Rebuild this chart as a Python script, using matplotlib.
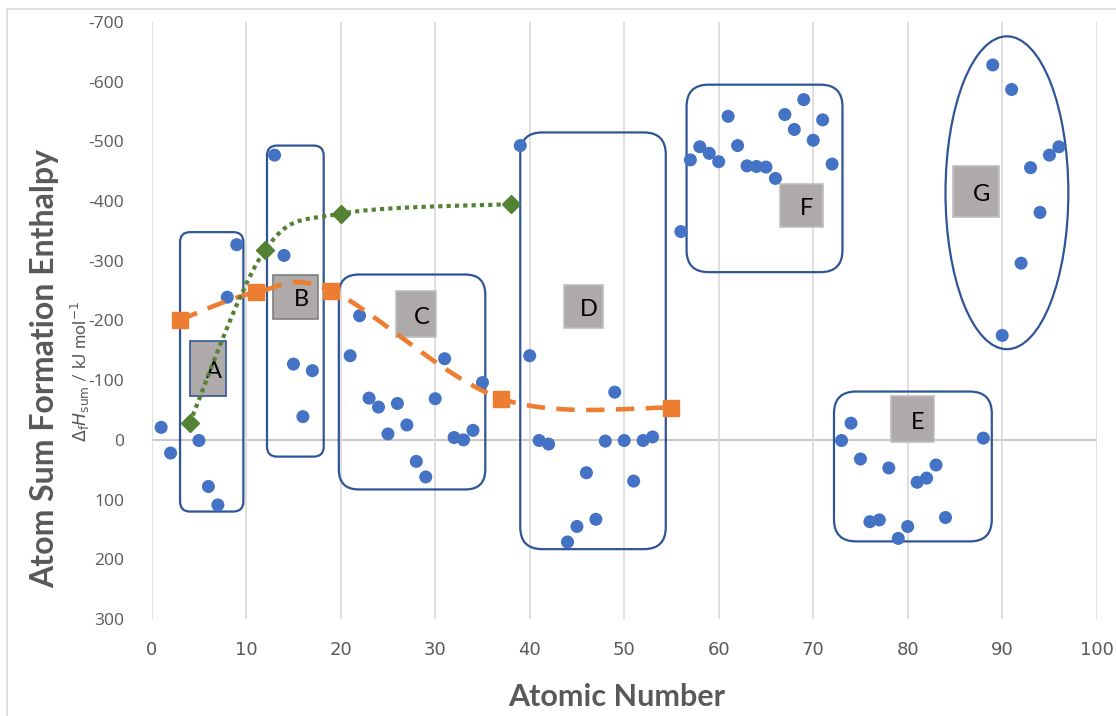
import numpy as np
import matplotlib
matplotlib.use("Agg")
import matplotlib.pyplot as plt
from matplotlib.patches import FancyBboxPatch, Ellipse, Rectangle

plt.rcParams['axes.unicode_minus'] = False
plt.rcParams['font.family'] = ['Lato', 'DejaVu Sans']

# atomic number vs atom sum formation enthalpy (kJ/mol)
z_all = [1, 2, 5, 6, 7, 8, 9, 13, 14, 15, 16, 17,
         21, 22, 23, 24, 25, 26, 27, 28, 29, 30, 31, 32, 33, 34, 35,
         39, 40, 41, 42, 44, 45, 46, 47, 48, 49, 50, 51, 52, 53,
         56, 57, 58, 59, 60, 61, 62, 63, 64, 65, 66, 67, 68, 69, 70, 71, 72,
         73, 74, 75, 76, 77, 78, 79, 80, 81, 82, 83, 84, 88,
         89, 90, 91, 92, 93, 94, 95, 96]
dh_all = [-21, 22, 1, 78, 109, -239, -327, -477, -309, -127, -39, -116,
          -141, -208, -70, -55, -10, -61, -25, 36, 62, -69, -136, -4, 0, -16, -96,
          -493, -141, 1, 7, 171, 145, 55, 133, 2, -80, 1, 69, 1, -5,
          -349, -469, -491, -480, -466, -542, -493, -459, -458, -457, -438, -545, -520, -570, -502, -536, -462,
          1, -28, 32, 137, 134, 47, 165, 145, 71, 64, 42, 130, -3,
          -628, -175, -587, -296, -456, -381, -477, -491]

# alkali metals
z_alkali = [3, 11, 19, 37, 55]
dh_alkali = [-201, -247, -250, -69, -54]

# alkaline earth metals
z_earth = [4, 12, 20, 38]
dh_earth = [-28, -318, -379, -395]

group_labels = ['A', 'B', 'C', 'D', 'E', 'F', 'G']

BLUE = '#4472C4'
ORANGE = '#ED7D31'
GREEN = '#548235'
FRAME = '#2F5597'
GREY_TXT = '#595959'
BOX_FILL = '#AEAAAA'


def smooth(xs, ys, n=40):
    # Excel-like smoothed line: cubic Bezier segments with Catmull-Rom tangents
    p = np.column_stack([xs, ys]).astype(float)
    pts = np.vstack([p[0], p, p[-1]])
    out = []
    for i in range(1, len(pts) - 2):
        p0, p1, p2, p3 = pts[i - 1], pts[i], pts[i + 1], pts[i + 2]
        c1 = p1 + (p2 - p0) / 6
        c2 = p2 - (p3 - p1) / 6
        t = np.linspace(0, 1, n)[:, None]
        seg = ((1 - t) ** 3) * p1 + 3 * ((1 - t) ** 2) * t * c1 + 3 * (1 - t) * t ** 2 * c2 + t ** 3 * p2
        out.append(seg if i == 1 else seg[1:])
    out = np.vstack(out)
    return out[:, 0], out[:, 1]


fig = plt.figure(figsize=(11.16, 7.16), dpi=100)
ax = fig.add_axes([151.7 / 1116, 97 / 716, 945 / 1116, 597 / 716])
ax.set_xlim(0, 100)
ax.set_ylim(300, -700)

# light chart-area border
fig.patches.append(Rectangle((7 / 1116, -0.1), 1.2, 1.1 - 9 / 716,
                             transform=fig.transFigure, fill=False,
                             edgecolor='#D9D9D9', lw=1.2))

for s in ax.spines.values():
    s.set_visible(False)
ax.set_xticks(np.arange(0, 101, 10))
ax.set_yticks(np.arange(-700, 301, 100))
ax.grid(axis='x', color='#D9D9D9', lw=1.2)
ax.set_axisbelow(True)
ax.axhline(0, color='#BFBFBF', lw=1.2, zorder=0.5)
ax.tick_params(length=0)
ax.tick_params(axis='y', pad=20, labelsize=12.5, labelcolor=GREY_TXT)
ax.tick_params(axis='x', pad=16, labelsize=13, labelcolor=GREY_TXT)
for lab in ax.get_yticklabels():
    lab.set_family(['Open Sans', 'DejaVu Sans'])
for lab in ax.get_xticklabels():
    lab.set_family(['Liberation Sans Narrow', 'DejaVu Sans'])

# pixel scale of the data axes, used to keep corner radii round
bb = ax.get_window_extent()
px_x = bb.width / 100
px_y = bb.height / 1000

group_boxes = [  # x0, x1, y_top, y_bottom, corner radius (px)
    (3.0, 9.7, -348, 120, 10),
    (12.2, 18.2, -493, 28, 10),
    (19.8, 35.3, -277, 83, 20),
    (39.0, 54.4, -515, 183, 22),
    (72.2, 88.9, -81, 170, 22),
    (56.6, 73.1, -595, -281, 22),
]
for x0, x1, yt, yb, r in group_boxes:
    ax.add_patch(FancyBboxPatch((x0, yt), x1 - x0, yb - yt,
                                boxstyle=f"round,pad=0,rounding_size={r / px_x}",
                                mutation_aspect=px_x / px_y,
                                fill=False, edgecolor=FRAME, lw=1.6, zorder=2))
ax.add_patch(Ellipse((90.5, -414), 13, 524, fill=False, edgecolor=FRAME, lw=1.6, zorder=2))

label_boxes = [  # x0, x1, y_top, y_bottom, edge colour
    (4.07, 7.86, -165, -73, FRAME),
    (12.85, 17.6, -276, -202, '#7F7F7F'),
    (25.8, 30.1, -249, -172, '#BFBFBF'),
    (43.6, 47.8, -260, -187, '#BFBFBF'),
    (78.2, 82.8, -73, 4, '#BFBFBF'),
    (66.5, 71.0, -428, -356, '#BFBFBF'),
    (84.8, 89.7, -458, -374, '#BFBFBF'),
]
for (x0, x1, yt, yb, ec), lab in zip(label_boxes, group_labels):
    ax.add_patch(Rectangle((x0, yt), x1 - x0, yb - yt, facecolor=BOX_FILL,
                           edgecolor=ec, lw=1.2, zorder=3))
    ax.annotate(lab, ((x0 + x1) / 2, (yt + yb) / 2), xytext=(4, -2),
                textcoords='offset points', ha='center', va='center',
                fontsize=17, color='black', zorder=4)

ax.scatter(z_all, dh_all, s=88, color=BLUE, edgecolors='none', zorder=5)

sx, sy = smooth(z_alkali, dh_alkali)
ax.plot(sx, sy, color=ORANGE, lw=3.3, dashes=(4, 2.5), zorder=6)
ax.plot(z_alkali, dh_alkali, 's', color=ORANGE, ms=11, zorder=7)

gx, gy = smooth(z_earth, dh_earth)
line, = ax.plot(gx, gy, color=GREEN, lw=3.0, dashes=(1, 1), zorder=6)
line.set_dash_capstyle('butt')
ax.plot(z_earth, dh_earth, 'D', color=GREEN, ms=9, zorder=7)

fig.text(45 / 1116, 1 - 368 / 716, 'Atom Sum Formation Enthalpy', rotation=90,
         ha='center', va='center', fontsize=23, fontweight='bold', color=GREY_TXT)
fig.text(80 / 1116, 1 - 372 / 716, r'$\Delta_\mathrm{f}H_\mathrm{sum}$ / kJ mol$^{-1}$',
         rotation=90, ha='center', va='center', fontsize=12.5, color=GREY_TXT)
fig.text(617 / 1116, 1 - 697 / 716, 'Atomic Number', ha='center', va='center',
         fontsize=22, fontweight='bold', color=GREY_TXT)

fig.savefig('out.png', dpi=100)
